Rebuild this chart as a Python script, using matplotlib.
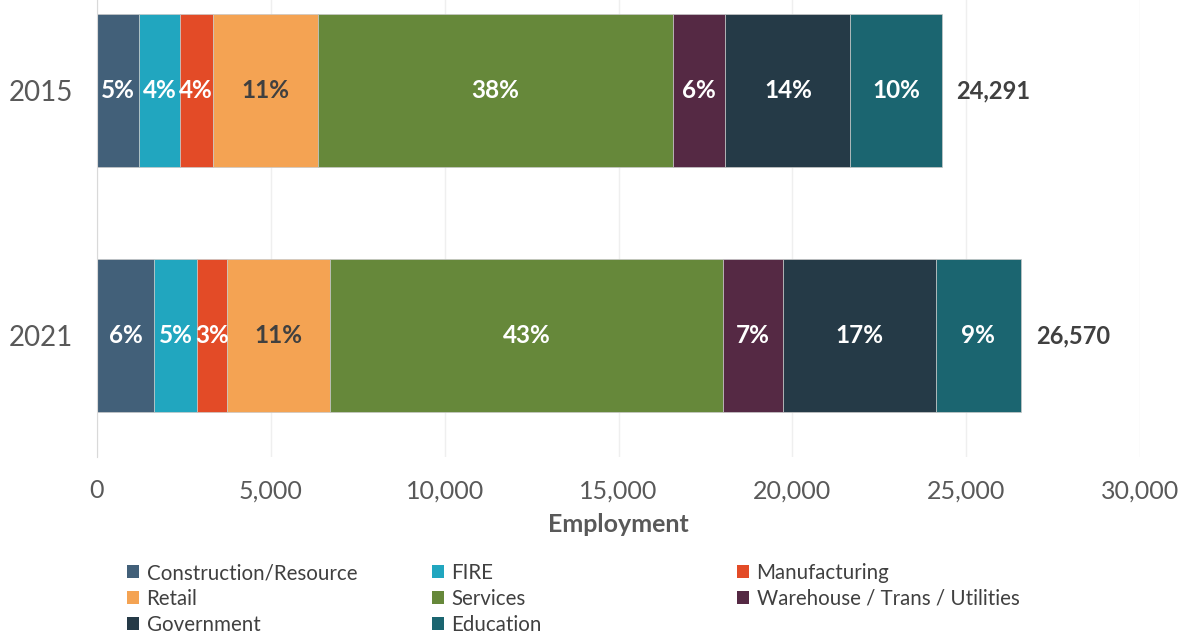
import numpy as np
import matplotlib.pyplot as plt

# Employment by sector, 2015 and 2021
years = ["2015", "2021"]
sectors = ["Construction/Resource", "FIRE", "Manufacturing", "Retail", "Services",
           "Warehouse / Trans / Utilities", "Government", "Education"]
construction = [1200, 1635]
fire = [1185, 1237]
manufacturing = [940, 875]
retail = [3030, 2952]
services = [10200, 11304]
warehouse = [1517, 1735]
government = [3600, 4394]
education = [2619, 2438]
x_ticks = [0, 5000, 10000, 15000, 20000, 25000, 30000]

series = [construction, fire, manufacturing, retail, services, warehouse, government, education]
colors = ["#426079", "#21a6bf", "#e34b27", "#f4a353", "#66883a", "#552944", "#253a47", "#1b6570"]
text_colors = ["white", "white", "white", "#404040", "white", "white", "white", "white"]

plt.rcParams["font.family"] = ["Lato", "DejaVu Sans"]

totals = np.sum(np.array(series), axis=0)
# shares are taken against the 2021 total for both years
share_base = totals[-1]

fig = plt.figure(figsize=(11.84, 6.34), dpi=100)
ax = fig.add_axes([97 / 1184, 1 - 457 / 634, (1140 - 97) / 1184, 457 / 634])

ypos = np.arange(len(years))
left = np.zeros(len(years))
handles = []
for name, vals, col, tcol in zip(sectors, series, colors, text_colors):
    vals = np.array(vals, dtype=float)
    bars = ax.barh(ypos, vals, left=left, height=0.625, color=col,
                   edgecolor="#c8c8c8", linewidth=0.5, label=name, zorder=3)
    handles.append(bars)
    for y, l, v in zip(ypos, left, vals):
        ax.text(l + v / 2, y, "{:.0%}".format(v / share_base), ha="center", va="center",
                color=tcol, fontsize=17.5, fontweight="bold", zorder=4)
    left += vals

for y, t in zip(ypos, totals):
    ax.text(t + 430, y, "{:,}".format(int(t)), ha="left", va="center",
            color="#404040", fontsize=17, fontweight="bold")

ax.set_xlim(0, 30000)
ax.set_ylim(1.496, -0.37)
ax.set_yticks(ypos)
ax.set_yticklabels(years)
ax.set_xticks(x_ticks)
ax.set_xticklabels(["{:,}".format(v) for v in x_ticks])
ax.tick_params(axis="x", length=0, pad=16, labelsize=18, labelcolor="#595959")
ax.tick_params(axis="y", length=0, pad=17, labelsize=20, labelcolor="#595959")
ax.xaxis.grid(color="#efefef", linewidth=1, zorder=0)
for s in ["top", "right", "bottom"]:
    ax.spines[s].set_visible(False)
ax.spines["left"].set_color("#d9d9d9")
ax.spines["left"].set_zorder(5)
ax.set_xlabel("Employment", fontsize=18, fontweight="bold", color="#595959", labelpad=8)

# Legend laid out as three columns, filled row by row
col_x = [127 / 1184, 432 / 1184, 737 / 1184]
for c in range(3):
    idx = list(range(c, len(sectors), 3))
    leg = fig.legend([handles[i] for i in idx], [sectors[i] for i in idx],
                     loc="upper left", bbox_to_anchor=(col_x[c], 1 - 563 / 634),
                     frameon=False, fontsize=14.8, handlelength=0.6, handleheight=0.6,
                     handletextpad=0.35, labelspacing=0.28, borderpad=0, borderaxespad=0)
    for t in leg.get_texts():
        t.set_color("#404040")
    for h in leg.legend_handles:
        h.set_edgecolor("none")

fig.savefig("out.png", dpi=100)
